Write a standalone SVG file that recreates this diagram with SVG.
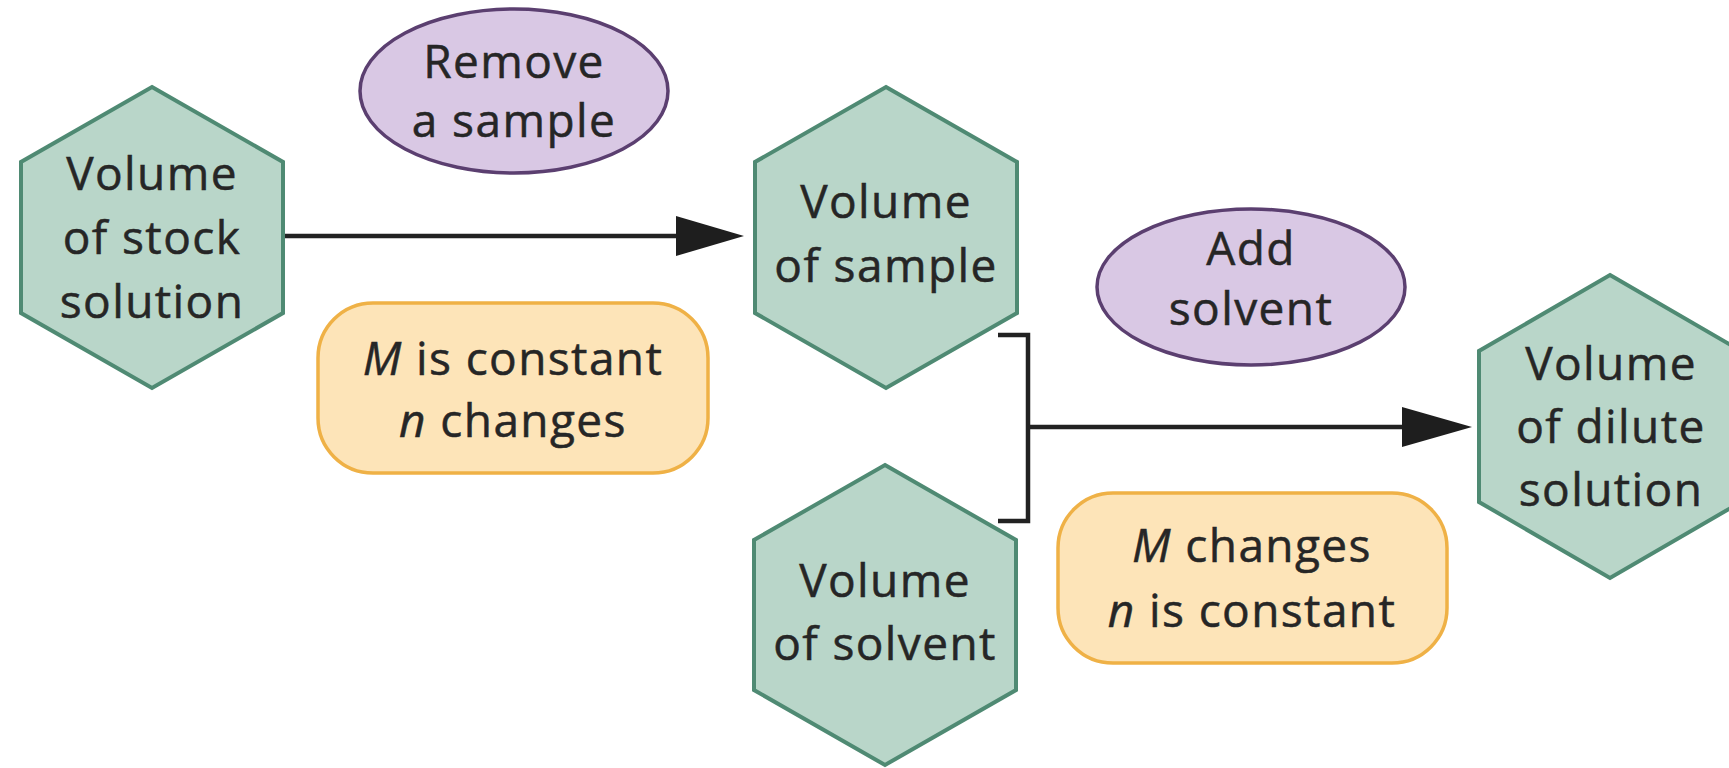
<svg xmlns="http://www.w3.org/2000/svg" width="1729" height="768" viewBox="0 0 1729 768">
<style>
.hex{fill:#b9d6c9;stroke:#4f8a73;stroke-width:4;stroke-linejoin:miter}
.act{fill:#d9c8e4;stroke:#5b3f70;stroke-width:3.5}
.note{fill:#fde4b8;stroke:#efb146;stroke-width:3.5}
.t{font-family:"Open Sans","DejaVu Sans",sans-serif;font-size:46px;fill:#262626;stroke:#262626;stroke-width:0.5;text-anchor:middle;letter-spacing:1.4px}
.i{font-style:italic}
.ln{fill:none;stroke:#222;stroke-width:4.5;stroke-linecap:butt;stroke-linejoin:miter}
.ah{fill:#1e1e1e}
</style>
<rect width="1729" height="768" fill="#ffffff"/>
<g id="connectors">
<line class="ln" x1="283" y1="236" x2="680" y2="236"/>
<polygon class="ah" points="676,216 744,236 676,256"/>
<polyline class="ln" points="998,335 1028,335 1028,521 998,521"/>
<line class="ln" x1="1028" y1="427" x2="1406" y2="427"/>
<polygon class="ah" points="1402,407 1472,427 1402,447"/>
</g>
<g id="stock">
<polygon class="hex" points="152,87 283,162 283,313 152,388 21,313 21,162"/>
<text class="t" x="152" y="190">Volume</text>
<text class="t" x="152" y="254">of stock</text>
<text class="t" x="152" y="318">solution</text>
</g>
<g id="remove">
<ellipse class="act" cx="514" cy="91" rx="154" ry="82"/>
<text class="t" x="514" y="78">Remove</text>
<text class="t" x="514" y="137">a sample</text>
</g>
<g id="sample">
<polygon class="hex" points="886,87 1017,162 1017,313 886,388 755,313 755,162"/>
<text class="t" x="886" y="218">Volume</text>
<text class="t" x="886" y="282">of sample</text>
</g>
<g id="note1">
<rect class="note" x="318" y="303" width="390" height="170" rx="55" ry="55"/>
<text class="t" x="513" y="375"><tspan class="i">M</tspan> is constant</text>
<text class="t" x="513" y="437"><tspan class="i">n</tspan> changes</text>
</g>
<g id="add">
<ellipse class="act" cx="1251" cy="287" rx="154" ry="78"/>
<text class="t" x="1251" y="265">Add</text>
<text class="t" x="1251" y="325">solvent</text>
</g>
<g id="solvent">
<polygon class="hex" points="885,465 1016,540 1016,690 885,765 754,690 754,540"/>
<text class="t" x="885" y="597">Volume</text>
<text class="t" x="885" y="660">of solvent</text>
</g>
<g id="note2">
<rect class="note" x="1058" y="493" width="389" height="170" rx="55" ry="55"/>
<text class="t" x="1252" y="562"><tspan class="i">M</tspan> changes</text>
<text class="t" x="1252" y="627"><tspan class="i">n</tspan> is constant</text>
</g>
<g id="dilute">
<polygon class="hex" points="1610,275 1741,351 1741,502 1610,578 1479,502 1479,351"/>
<text class="t" x="1611" y="380">Volume</text>
<text class="t" x="1611" y="443">of dilute</text>
<text class="t" x="1611" y="506">solution</text>
</g>
</svg>
